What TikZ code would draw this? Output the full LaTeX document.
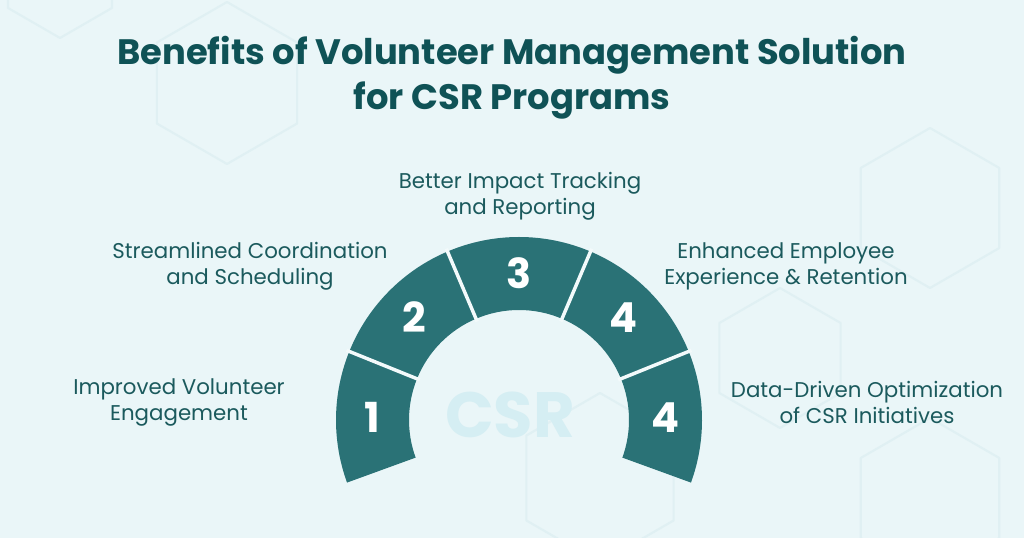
\documentclass[tikz,border=0pt]{standalone}
\usepackage{fontspec}
\setmainfont{Poppins}
\usetikzlibrary{positioning}

\definecolor{bgblue}{HTML}{EAF6F8}
\definecolor{hexblue}{HTML}{E0F0F3}
\definecolor{segteal}{HTML}{2A7276}
\definecolor{titleteal}{HTML}{0F5256}
\definecolor{labelteal}{HTML}{1B5A5D}
\definecolor{csrblue}{HTML}{D5EEF3}
\definecolor{gapwhite}{HTML}{F3FAFB}

\begin{document}
\begin{tikzpicture}[x=0.75pt,y=0.75pt,
    segment/.style={fill=segteal},
    gapline/.style={draw=gapwhite,line width=2.6pt},
    hexline/.style={draw=hexblue,line width=1.6pt,line join=round},
    numtext/.style={text=white,font=\fontsize{31}{31}\selectfont\bfseries},
    benefit/.style={text=labelteal,align=center,font=\fontsize{16}{19.5}\selectfont}]

        % Background
        \useasboundingbox (0,0) rectangle (1024,538);
        \fill[bgblue] (0,0) rectangle (1024,538);

        % Faint hexagons
        \foreach \hx/\hy/\hr in {227/455/81, 60/560/60, 600/60/85, 930/330/80, 930/40/80, 780/180/70}
            \draw[hexline,shift={(\hx,\hy)}] (90:\hr) -- (150:\hr) -- (210:\hr) -- (270:\hr) -- (330:\hr) -- (30:\hr) -- cycle;

        % Title
        \node[text=titleteal,align=center,font=\fontsize{26.5}{34}\selectfont\bfseries] (title) at (512,460)
            {Benefits of Volunteer Management Solution\\for CSR Programs};

        % Centre word
        \node[text=csrblue,font=\fontsize{48}{48}\selectfont\bfseries] (csr) at (510,123) {CSR};

        % Arc segments with numbers
        \begin{scope}[shift={(519,118)}]
            \foreach \i/\a/\b/\n in {1/200/158/1, 2/158/113/2, 3/113/67/3, 4/67/22/4, 5/22/-20/4} {
                \fill[segment] (\a:110) -- (\a:183) arc[start angle=\a,end angle=\b,radius=183]
                    -- (\b:110) arc[start angle=\b,end angle=\a,radius=110] -- cycle;
                \node[numtext] (num\i) at ({(\a+\b)/2}:146.5) {\n};
            }
            % gaps between segments
            \foreach \s in {158,113,67,22}
                \draw[gapline] (\s:107) -- (\s:186);
        \end{scope}

        % Benefit labels
        \node[benefit] (lbl1) at (179,136) {Improved Volunteer\\Engagement};
        \node[benefit] (lbl2) at (250,272) {Streamlined Coordination\\and Scheduling};
        \node[benefit] (lbl3) at (520,342) {Better Impact Tracking\\and Reporting};
        \node[benefit] (lbl4) at (786,272) {Enhanced Employee\\Experience \& Retention};
        \node[benefit] (lbl5) at (867,136) {Data-Driven Optimization\\of CSR Initiatives};
\end{tikzpicture}
\end{document}
